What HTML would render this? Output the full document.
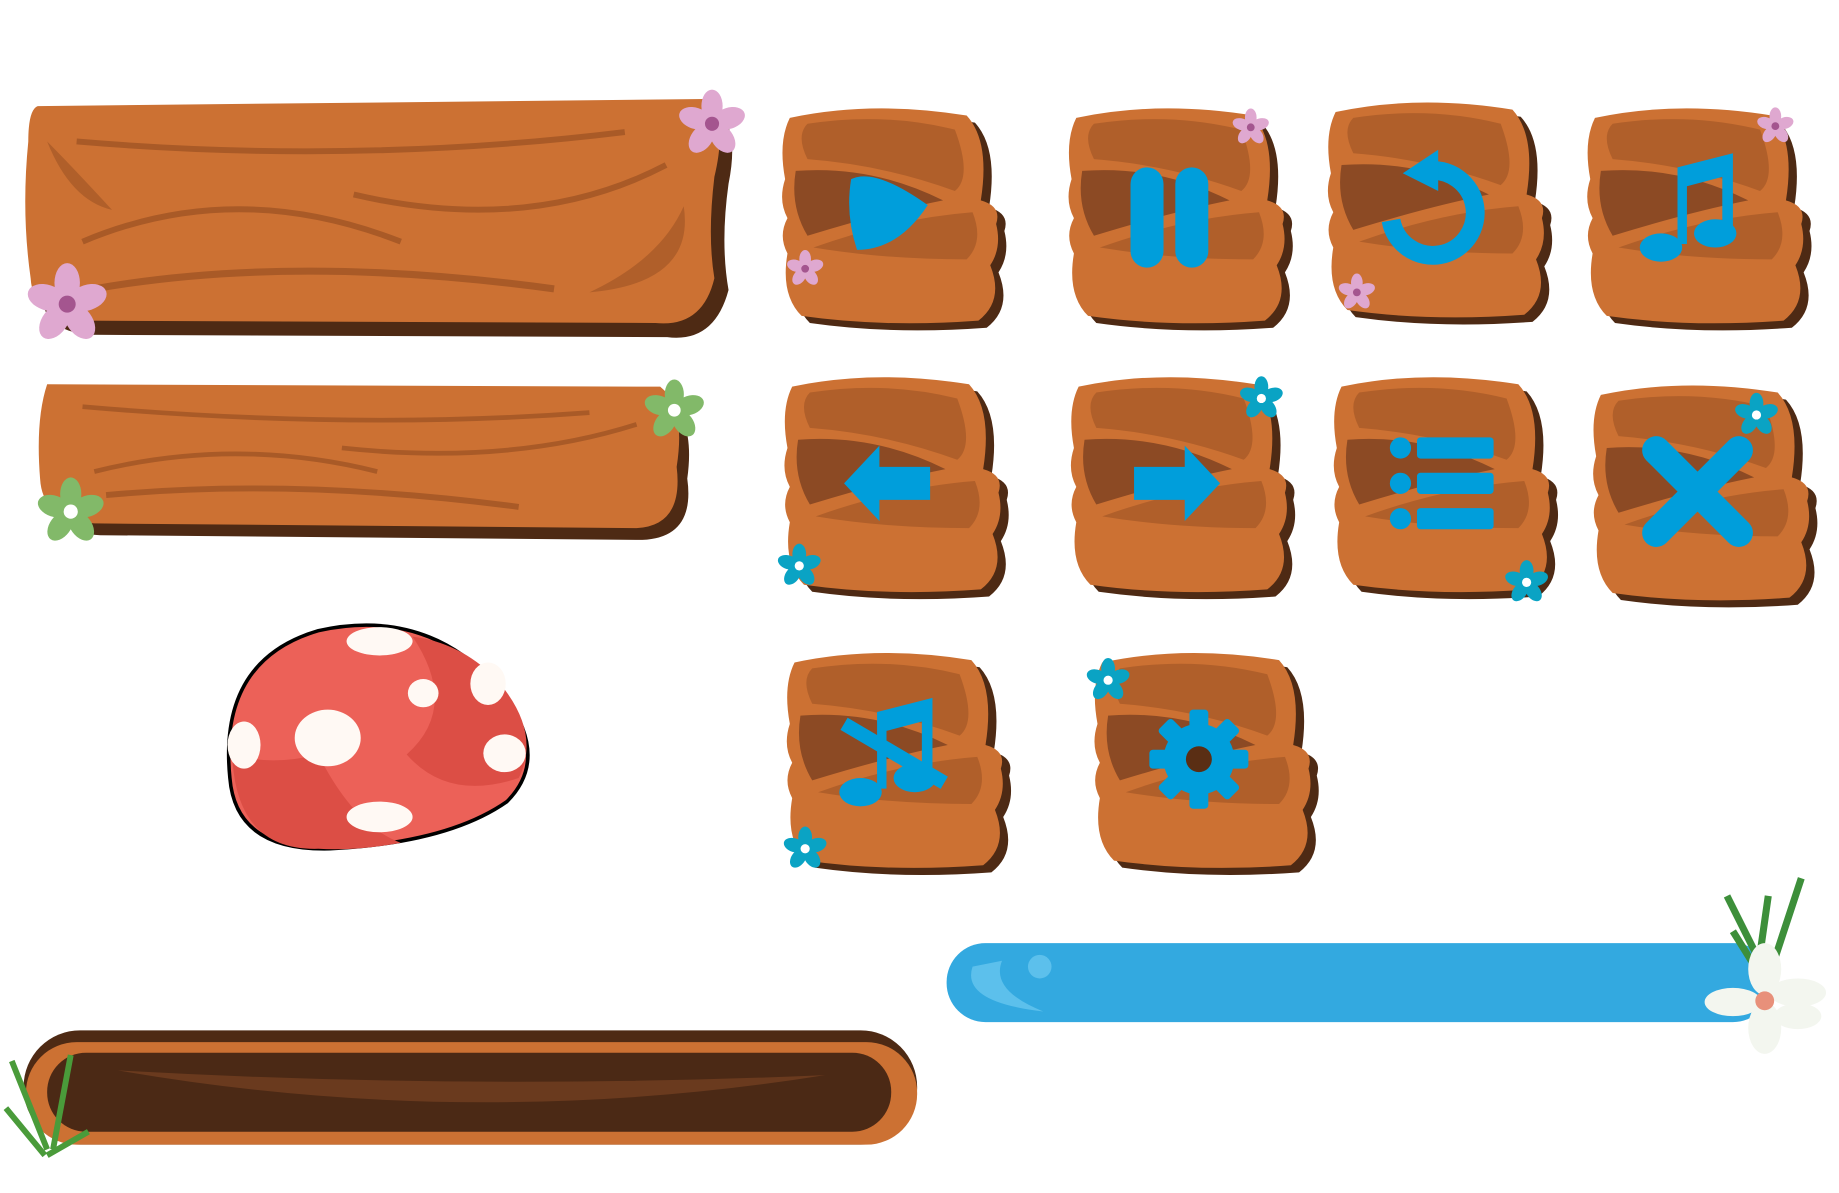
<!DOCTYPE html>
<html><head><meta charset="utf-8"><style>
html,body{margin:0;padding:0;background:#fff;width:1839px;height:1193px;overflow:hidden}
svg{display:block}
</style></head><body>
<svg id="s" width="1839" height="1193" viewBox="0 0 1560 1012" preserveAspectRatio="none" xmlns="http://www.w3.org/2000/svg">
<g>
 <path d="M32 92 L600 86 Q622 100 612 150 Q605 200 612 240 Q600 285 560 280 L70 278 Q30 275 28 240 Q20 180 26 120 Q26 95 32 92Z" fill="#4e2a14" transform="translate(6,6)"/>
 <path d="M32 90 L598 84 Q618 100 606 150 Q600 200 606 236 Q596 278 556 274 L70 272 Q28 270 26 236 Q18 180 24 120 Q24 93 32 90Z" fill="#cc7133"/>
 <path d="M65 120 Q300 140 530 112" stroke="#a95a27" stroke-width="5" fill="none"/>
 <path d="M70 205 Q200 150 340 205" stroke="#a95a27" stroke-width="5" fill="none"/>
 <path d="M300 165 Q450 200 565 140" stroke="#a95a27" stroke-width="5" fill="none"/>
 <path d="M80 245 Q250 215 470 245" stroke="#a95a27" stroke-width="6" fill="none"/>
 <path d="M40 120 Q60 170 95 178 Q60 140 40 120Z" fill="#b05f2a"/>
 <path d="M580 175 Q590 240 500 248 Q560 220 580 175Z" fill="#b05f2a"/>
</g>
<g>
 <path d="M40 330 L560 332 Q585 350 578 400 Q585 450 540 452 L80 448 Q36 446 34 410 Q30 360 40 330Z" fill="#4e2a14" transform="translate(5,6)"/>
 <path d="M40 326 L560 328 Q582 345 574 396 Q580 446 540 448 L80 444 Q36 442 34 406 Q30 356 40 326Z" fill="#cc7133"/>
 <path d="M70 345 Q300 365 500 350" stroke="#a95a27" stroke-width="4" fill="none"/>
 <path d="M80 400 Q200 370 320 400" stroke="#a95a27" stroke-width="4" fill="none"/>
 <path d="M290 380 Q430 395 540 360" stroke="#a95a27" stroke-width="4" fill="none"/>
 <path d="M90 420 Q250 405 440 430" stroke="#a95a27" stroke-width="5" fill="none"/>
</g>
<g id="buttons"></g>
<g>
 <path d="M195 660 Q185 560 270 535 Q360 515 420 580 Q470 640 430 680 Q380 715 280 720 Q200 722 195 660Z" fill="#ec6158" stroke="#000" stroke-width="3"/>
 <path d="M197 640 Q230 650 270 640 Q300 700 340 715 Q300 722 270 720 Q200 722 197 640Z" fill="#dc4e45"/>
 <path d="M350 540 Q390 600 345 640 Q380 680 440 660 Q460 620 420 575 Q390 545 350 540Z" fill="#dc4e45"/>
 <ellipse cx="322" cy="544" rx="28" ry="12" fill="#fff9f4"/>
 <ellipse cx="278" cy="626" rx="28" ry="24" fill="#fff9f4"/>
 <ellipse cx="359" cy="588" rx="13" ry="12" fill="#fff9f4"/>
 <ellipse cx="414" cy="580" rx="15" ry="18" fill="#fff9f4"/>
 <ellipse cx="428" cy="639" rx="18" ry="16" fill="#fff9f4"/>
 <ellipse cx="322" cy="693" rx="28" ry="13" fill="#fff9f4"/>
 <ellipse cx="207" cy="632" rx="14" ry="20" fill="#fff9f4"/>
</g>
<g>
 <rect x="803" y="800" width="700" height="67" rx="33" fill="#33a9e0"/>
 <path d="M825 820 Q815 850 885 858 Q840 840 850 815Z" fill="#5cc0ec"/>
 <ellipse cx="882" cy="820" rx="10" ry="10" fill="#5cc0ec"/>
 <path d="M1465 760 L1500 830 M1490 830 L1500 760 M1500 830 L1528 745 M1470 790 L1495 830" stroke="#3d8f3a" stroke-width="6" fill="none"/>
 <g fill="#f3f6ef">
  <ellipse cx="1497" cy="822" rx="14" ry="22"/><ellipse cx="1497" cy="872" rx="14" ry="22"/>
  <ellipse cx="1470" cy="850" rx="24" ry="12"/><ellipse cx="1525" cy="842" rx="24" ry="12"/><ellipse cx="1525" cy="862" rx="20" ry="11"/>
  <circle cx="1497" cy="849" r="8" fill="#e8907a"/>
 </g>
</g>
<g>
 <rect x="20" y="874" width="758" height="97" rx="48" fill="#4e2a14"/>
 <rect x="22" y="884" width="756" height="87" rx="43" fill="#cc7133"/>
 <rect x="40" y="893" width="716" height="67" rx="33" fill="#4b2915"/>
 <path d="M100 908 Q400 960 700 912 Q400 925 100 908Z" fill="#6a3a1e"/>
 <path d="M10 900 L40 975 M45 975 L60 895 M5 940 L38 980 M40 980 L75 960" stroke="#4a9b3a" stroke-width="5" fill="none"/>
</g>
<g id="flowers"></g>
</svg>
<script>
const NS='http://www.w3.org/2000/svg';
const btns=[[660,90,'play'],[903,90,'pause'],[1123,85,'refresh'],[1343,90,'music'],
 [662,318,'back'],[905,318,'forward'],[1128,318,'list'],[1348,325,'close'],
 [664,552,'sound'],[925,552,'settings']];
const g=document.getElementById('buttons');
function mk(t,a,p){const e=document.createElementNS(NS,t);for(const k in a)e.setAttribute(k,a[k]);p.appendChild(e);return e;}
const B='#009edb';
btns.forEach(([x,y,ic])=>{
 const b=mk('g',{transform:`translate(${x},${y})`},g);
 
 
 const body="M10 10 Q80 -5 160 8 Q180 30 172 80 Q190 85 185 100 Q190 120 180 135 Q192 165 170 182 Q90 188 20 178 Q2 160 8 125 Q0 110 8 95 Q0 80 6 62 Q0 30 10 10Z";
 mk('path',{d:body,fill:'#4e2a14',transform:'translate(7,6)'},b);
 mk('path',{d:body,fill:'#cc7133'},b);
 mk('path',{d:'M25 15 Q90 5 150 20 Q165 60 150 72 Q90 50 25 45 Q15 25 25 15Z',fill:'#b05f2a'},b);
 mk('path',{d:'M15 55 Q80 50 140 80 Q90 90 25 110 Q10 85 15 55Z',fill:'#8c4a24'},b);
 mk('path',{d:'M30 120 Q100 95 165 90 Q175 115 160 130 Q90 130 30 120Z',fill:'#b05f2a'},b);
 const c=mk('g',{transform:'translate(92,92)',fill:B},b);
 if(ic==='play')mk('path',{d:'M-30 -30 Q-10 -40 35 -8 Q10 30 -25 30 Q-35 0 -30 -30Z'},c);
 if(ic==='pause'){mk('rect',{x:-36,y:-40,width:28,height:85,rx:14},c);mk('rect',{x:2,y:-40,width:28,height:85,rx:14},c);}
 if(ic==='refresh'){mk('path',{d:'M-35 10 A36 36 0 1 0 -5 -32',fill:'none',stroke:B,'stroke-width':16},c);mk('path',{d:'M-25 -30 L5 -50 L5 -15Z'},c);}
 if(ic==='music'||ic==='sound'){mk('path',{d:'M-12 -40 L35 -52 L35 15 L26 15 L26 -32 L-4 -24 L-4 25 L-12 25Z'},c);mk('ellipse',{cx:-26,cy:28,rx:18,ry:12},c);mk('ellipse',{cx:20,cy:16,rx:18,ry:12},c);
  if(ic==='sound')mk('line',{x1:-40,y1:-30,x2:45,y2:20,stroke:B,'stroke-width':12},c);}
 if(ic==='back')mk('path',{d:'M-38 0 L-8 -32 L-8 -14 L35 -14 L35 14 L-8 14 L-8 32Z'},c);
 if(ic==='forward')mk('path',{d:'M38 0 L8 -32 L8 -14 L-35 -14 L-35 14 L8 14 L8 32Z'},c);
 if(ic==='list'){[-30,0,30].forEach(d=>{mk('circle',{cx:-32,cy:d,r:9},c);mk('rect',{x:-18,y:d-9,width:65,height:18,rx:3},c);});}
 if(ic==='close'){mk('path',{d:'M-35 -35 L35 35 M35 -35 L-35 35',stroke:B,'stroke-width':24,'stroke-linecap':'round'},c);}
 if(ic==='settings'){mk('circle',{cx:0,cy:0,r:30},c);for(let i=0;i<8;i++)mk('rect',{x:-8,y:-42,width:16,height:20,rx:3,transform:`rotate(${i*45})`},c);mk('circle',{cx:0,cy:0,r:11,fill:'#5a2e14'},c);}
});
const fl=[[604,105,'#dfa8d0','#a4558f',20],[57,258,'#dfa8d0','#a4558f',24],[572,348,'#82b969','#fff',18],[60,434,'#82b969','#fff',20],
 [683,228,'#dfa8d0','#a4558f',11],[1061,108,'#dfa8d0','#a4558f',11],[1151,248,'#dfa8d0','#a4558f',11],[1506,107,'#dfa8d0','#a4558f',11],
 [678,480,'#0aa3c4','#fff',13],[1070,338,'#0aa3c4','#fff',13],[1295,494,'#0aa3c4','#fff',13],[1490,352,'#0aa3c4','#fff',13],[683,720,'#0aa3c4','#fff',13],[940,577,'#0aa3c4','#fff',13]];
const fg=document.getElementById('flowers');
fl.forEach(([x,y,col,cc,r])=>{
 const f=mk('g',{transform:`translate(${x},${y})`},fg);
 
 
 for(let i=0;i<5;i++)mk('ellipse',{cx:0,cy:-r*0.75,rx:r*0.45,ry:r*0.7,fill:col,transform:`rotate(${i*72})`},f);
 mk('circle',{cx:0,cy:0,r:r*0.3,fill:cc},f);
});
</script>
</body></html>
